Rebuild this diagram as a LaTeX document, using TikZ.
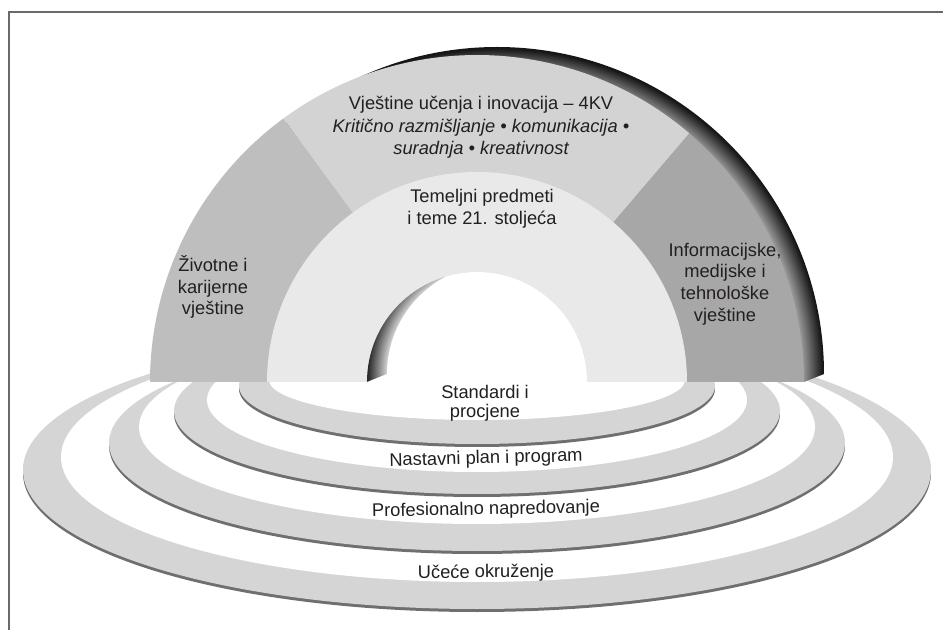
\documentclass[tikz,border=0pt]{standalone}
\usepackage{fontspec}
\setmainfont{Liberation Sans}
\definecolor{framec}{HTML}{6A6A6A}
\definecolor{leftc}{HTML}{BEBEBE}
\definecolor{topc}{HTML}{D3D3D3}
\definecolor{rightc}{HTML}{A8A7A8}
\definecolor{innerc}{HTML}{E9E9E9}
\definecolor{ringc}{HTML}{D5D5D5}
\definecolor{shadowc}{HTML}{6F6F6F}
\definecolor{txtc}{HTML}{231F20}
\definecolor{rimlight}{HTML}{A6A6A6}
\definecolor{rimdark}{HTML}{161616}
\definecolor{holelight}{HTML}{D8D8D8}
\definecolor{holedark}{HTML}{2A2A2A}
\pgfdeclareradialshading{rimshade}{\pgfpoint{0bp}{0bp}}{color(0bp)=(rimlight); color(23.2bp)=(rimlight); color(24.9bp)=(rimdark); color(50bp)=(rimdark)}
\pgfdeclareradialshading{holeshade}{\pgfpoint{0bp}{0bp}}{color(0bp)=(white); color(21.1bp)=(holelight); color(24.8bp)=(holedark); color(50bp)=(holedark)}
\tikzset{
  lbl/.style={text=txtc, align=center, inner sep=0pt, font=\fontsize{18.3}{21.8}\selectfont},
  ilbl/.style={lbl, font=\fontsize{18.3}{21.8}\selectfont\itshape},
}
\begin{document}
\begin{tikzpicture}[x=1pt,y=1pt]
\useasboundingbox (0,0) rectangle (943,630);
\fill[white] (0,0) rectangle (943,630);
% frame
\draw[framec, line width=1.6] (9,0) -- (9,618) -- (943,618);
% rings: outer to inner (centre y, semi-axes of outer and inner ellipse)
\foreach \cyo/\ao/\bo/\cyi/\ai/\bi in {160/454/139/173/416/125, 187/368/108/203/338/97, 219/303/83/230/270/72, 244/238/58/250/208/40}{
  \fill[shadowc] (477,\cyo-3) ellipse [x radius=\ao, y radius=\bo];
  \fill[ringc] (477,\cyo) ellipse [x radius=\ao, y radius=\bo];
  \fill[white] (477,\cyi) ellipse [x radius=\ai, y radius=\bi];
}
% back rim of the arch
\begin{scope}
  \clip (150,248) -- (170,256) arc[start angle=180, end angle=0, radius=327] -- (804,248) -- cycle;
  \shade[shading=rimshade] (497,256) circle (327);
\end{scope}
% sectors
\fill[leftc] (477,248) -- ++(180:327) arc[start angle=180, end angle=126.3, radius=327] -- cycle;
\fill[topc] (477,248) -- ++(126.3:327) arc[start angle=126.3, end angle=49.5, radius=327] -- cycle;
\fill[rightc] (477,248) -- ++(49.5:327) arc[start angle=49.5, end angle=0, radius=327] -- cycle;
\fill[innerc] (267,248) arc[start angle=180, end angle=0, radius=210] -- cycle;
% hole
\begin{scope}
  \clip (367,248) arc[start angle=180, end angle=0, radius=110] -- cycle;
  \shade[shading=holeshade] (497,256) circle (130);
  \fill[white] (367,248) -- (387,256) arc[start angle=180, end angle=0, radius=110] -- (607,248) -- cycle;
\end{scope}
% labels
\node[lbl] (t1) at (481,525) {Vještine učenja i inovacija – 4KV};
\node[ilbl] (t2) at (481,502) {Kritično razmišljanje • komunikacija •};
\node[ilbl] (t3) at (481,480) {suradnja • kreativnost};
\node[lbl] (core) at (482,421) {Temeljni predmeti\\i teme 21. stoljeća};
\node[lbl] (life) at (213,343) {Životne i\\karijerne\\vještine};
\node[lbl] (info) at (725,346) {Informacijske,\\medijske i\\tehnološke\\vještine};
\node[lbl, font=\fontsize{18.3}{18.6}\selectfont] (std) at (485,227) {Standardi i\\procjene};
\node[lbl, rotate=1.5] (cur) at (486,171) {Nastavni plan i program};
\node[lbl, rotate=1] (prof) at (486,120) {Profesionalno napredovanje};
\node[lbl, rotate=0.5] (env) at (486,57) {Učeće okruženje};
\end{tikzpicture}
\end{document}
